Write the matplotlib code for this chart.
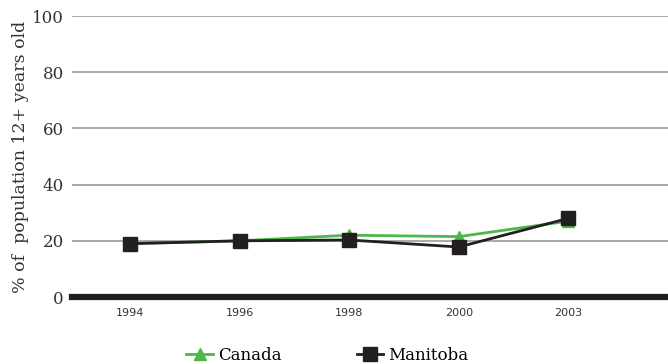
import matplotlib.pyplot as plt

years = ['1994', '1996', '1998', '2000', '2003']
canada = [19, 20, 22, 21.5, 27]
manitoba = [19, 20, 20.3, 17.8, 28]

plt.rcParams['font.family'] = ['DejaVu Serif']

fig = plt.figure(figsize=(6.68, 3.64), dpi=100)
ax = fig.add_axes([0.108, 0.184, 0.892, 0.772])

x = range(len(years))
ax.plot(x, canada, color='#4cb848', lw=2, marker='^', ms=8, label='Canada', zorder=3)
ax.plot(x, manitoba, color='#231f20', lw=2, marker='s', ms=10, label='Manitoba', zorder=4)

ax.set_ylim(0, 100)
ax.set_xlim(-0.53, 4.91)
ax.set_yticks([0, 20, 40, 60, 80, 100])
ax.set_xticks(list(x))
ax.set_xticklabels(years, fontsize=8, family='DejaVu Sans', color='#333333')
ax.tick_params(axis='y', labelsize=12, colors='#333333', length=0, pad=6)
ax.tick_params(axis='x', length=0, pad=8)
ax.yaxis.grid(True, color='#a3a3a3', lw=1.3)
ax.set_axisbelow(True)

for side in ['top', 'right', 'left']:
    ax.spines[side].set_visible(False)
ax.spines['bottom'].set_linewidth(4.5)
ax.spines['bottom'].set_color('#231f20')

ax.set_ylabel('% of  population 12+ years old', fontsize=12.5, color='#333333', labelpad=2)

fig.legend(loc='lower center', bbox_to_anchor=(0.49, -0.04), ncol=2, frameon=False,
           fontsize=12, handlelength=1.6, columnspacing=4.5, handletextpad=0.3)

fig.savefig('out.png', dpi=100)
